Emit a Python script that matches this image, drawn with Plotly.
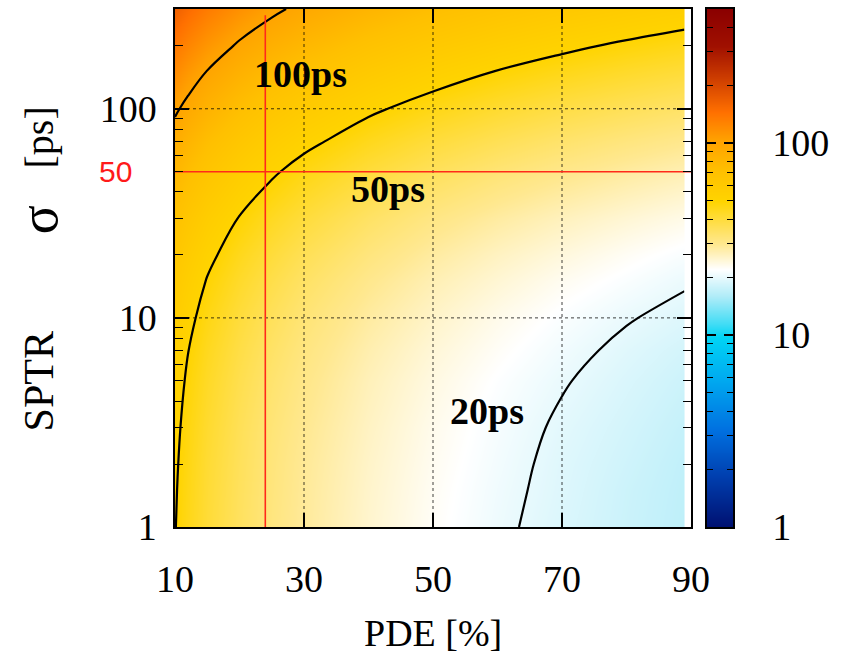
import math
import plotly.graph_objects as go

# Grid of the time-resolution map: PDE [%] columns, SPTR [ps] rows
pde = [10, 12, 15, 20, 25, 30, 40, 50, 60, 70, 80, 89]
sptr = [1, 1.5, 2, 3, 5, 7, 10, 15, 20, 30, 50, 70, 100, 150, 200, 300]

# sigma [ps], one list per SPTR row (same order as `sptr`)
sigma_ps = [
    [50.3, 45.9, 41.1, 35.6, 31.8, 29.1, 25.2, 22.5, 20.5, 19.0, 17.8, 16.9],
    [50.7, 46.3, 41.4, 35.9, 32.1, 29.3, 25.4, 22.7, 20.7, 19.2, 17.9, 17.0],
    [51.1, 46.7, 41.7, 36.2, 32.3, 29.5, 25.6, 22.9, 20.9, 19.3, 18.1, 17.1],
    [51.9, 47.4, 42.4, 36.7, 32.8, 30.0, 26.0, 23.2, 21.2, 19.6, 18.4, 17.4],
    [53.5, 48.8, 43.7, 37.8, 33.8, 30.9, 26.7, 23.9, 21.8, 20.2, 18.9, 17.9],
    [55.0, 50.2, 44.9, 38.9, 34.8, 31.8, 27.5, 24.6, 22.5, 20.8, 19.4, 18.4],
    [57.2, 52.2, 46.7, 40.4, 36.2, 33.0, 28.6, 25.6, 23.3, 21.6, 20.2, 19.2],
    [60.7, 55.4, 49.5, 42.9, 38.4, 35.0, 30.3, 27.1, 24.8, 22.9, 21.5, 20.3],
    [64.0, 58.4, 52.2, 45.2, 40.5, 36.9, 32.0, 28.6, 26.1, 24.2, 22.6, 21.4],
    [70.1, 64.0, 57.2, 49.6, 44.3, 40.5, 35.0, 31.3, 28.6, 26.5, 24.8, 23.5],
    [80.9, 73.9, 66.1, 57.2, 51.2, 46.7, 40.5, 36.2, 33.0, 30.6, 28.6, 27.1],
    [90.5, 82.6, 73.9, 64.0, 57.2, 52.3, 45.3, 40.5, 37.0, 34.2, 32.0, 30.3],
    [103.2, 94.2, 84.3, 73.0, 65.3, 59.6, 51.6, 46.2, 42.1, 39.0, 36.5, 34.6],
    [121.5, 110.9, 99.2, 85.9, 76.8, 70.1, 60.7, 54.3, 49.6, 45.9, 42.9, 40.7],
    [137.3, 125.3, 112.1, 97.1, 86.8, 79.3, 68.7, 61.4, 56.1, 51.9, 48.5, 46.0],
    [164.5, 150.1, 134.3, 116.3, 104.0, 95.0, 82.2, 73.6, 67.1, 62.2, 58.2, 55.1],
]

# Iso-resolution lines and their labels
contour_levels = [20, 50, 100]
contour_texts = ["20ps", "50ps", "100ps"]
label_pde = [58.4, 43.0, 29.4]
label_sptr = [3.6, 41.5, 147]

# Axes
pde_range = [10, 90]
sptr_range = [1, 300]
pde_ticks = [10, 30, 50, 70, 90]
sptr_ticks = [1, 10, 100]
sptr_minor = [2, 3, 4, 5, 6, 7, 8, 9, 20, 30, 40, 50, 60, 70, 80, 90, 200, 300]

# Colour bar (log scale) and colour ramp
cbar_range = [1, 500]
cbar_ticks = [1, 10, 100]
cbar_minor = [2, 3, 4, 5, 6, 7, 8, 9, 20, 30, 40, 50, 60, 70, 80, 90,
              200, 300, 400, 500]
cs_values = [1, 1.86, 3.2, 5.9, 9.8, 11.4, 16, 22, 30, 50, 72, 105, 145,
             213, 320, 500]
cs_colors = ["#001070", "#0040b0", "#0070e0", "#00aaf0", "#00d4f5", "#40dcf5",
             "#b0ecf8", "#ffffff", "#ffe890", "#ffd400", "#ffc000", "#ffa000",
             "#ff7000", "#d04000", "#a01000", "#8b0000"]

# Working point marked in red
sel_pde = 24
sel_sptr = 50
sel_sptr_top = 280

SERIF = "Liberation Serif, Times New Roman, serif"
SANS = "Liberation Sans, Arial, sans-serif"

lmin, lmax = math.log10(cbar_range[0]), math.log10(cbar_range[1])
colorscale = [[(math.log10(v) - lmin) / (lmax - lmin), c]
              for v, c in zip(cs_values, cs_colors)]
log_sigma = [[math.log10(v) for v in row] for row in sigma_ps]

fig = go.Figure()

# --- main map -------------------------------------------------------------
fig.add_trace(go.Heatmap(
    x=pde, y=sptr, z=log_sigma, zsmooth="best",
    colorscale=colorscale, zmin=lmin, zmax=lmax,
    showscale=False, hoverinfo="skip", xaxis="x", yaxis="y",
))

# white margin between the last PDE sample and the axis end
fig.add_trace(go.Scatter(
    x=[pde[-1], pde_range[1], pde_range[1], pde[-1]],
    y=[sptr_range[0], sptr_range[0], sptr_range[1], sptr_range[1]],
    fill="toself", fillcolor="white", line=dict(width=0),
    mode="lines", hoverinfo="skip", showlegend=False,
))

# dotted grid
grid_line = dict(color="rgba(0,0,0,0.75)", width=1, dash="dot")
for xv in pde_ticks[1:-1]:
    fig.add_trace(go.Scatter(x=[xv, xv], y=sptr_range, mode="lines",
                             line=grid_line, hoverinfo="skip", showlegend=False))
for yv in sptr_ticks[1:]:
    fig.add_trace(go.Scatter(x=pde_range, y=[yv, yv], mode="lines",
                             line=grid_line, hoverinfo="skip", showlegend=False))

# iso-sigma contours
for lvl in contour_levels:
    fig.add_trace(go.Contour(
        x=pde, y=sptr, z=sigma_ps,
        contours=dict(start=lvl, end=lvl, size=1, coloring="none"),
        line=dict(color="black", width=2.2, smoothing=1),
        showscale=False, hoverinfo="skip", showlegend=False,
    ))

# red working-point lines
red_line = dict(color="#ff2a1a", width=1.6)
fig.add_trace(go.Scatter(x=pde_range, y=[sel_sptr, sel_sptr], mode="lines",
                         line=red_line, hoverinfo="skip", showlegend=False))
fig.add_trace(go.Scatter(x=[sel_pde, sel_pde], y=[sptr_range[0], sel_sptr_top],
                         mode="lines", line=red_line, hoverinfo="skip",
                         showlegend=False))

# --- colour bar as its own log axis -----------------------------------------
fig.add_trace(go.Heatmap(
    x=[0, 1], y=cs_values,
    z=[[math.log10(v), math.log10(v)] for v in cs_values],
    zsmooth="best", colorscale=colorscale, zmin=lmin, zmax=lmax,
    showscale=False, hoverinfo="skip", xaxis="x2", yaxis="y2",
))

annotations = []
for txt, xv, yv in zip(contour_texts, label_pde, label_sptr):
    annotations.append(dict(
        x=xv, y=math.log10(yv), xref="x", yref="y", text=f"<b>{txt}</b>",
        showarrow=False, font=dict(family=SERIF, size=38, color="black")))

annotations.append(dict(
    x=0, y=math.log10(sel_sptr), xref="paper", yref="y", text=str(sel_sptr),
    showarrow=False, xanchor="center", xshift=-60,
    font=dict(family=SANS, size=30, color="#ff1a1a")))

annotations.append(dict(
    x=0.5, y=0, xref="x domain", yref="paper", text="PDE [%]", showarrow=False,
    yanchor="middle", yshift=-106, font=dict(family=SERIF, size=38, color="black")))

for txt, yp, size in [("SPTR", 0.281, 42), ("σ", 0.592, 54), ("[ps]", 0.752, 40)]:
    annotations.append(dict(
        x=0, y=yp, xref="paper", yref="paper", text=txt, showarrow=False,
        textangle=-90, xanchor="center", yanchor="middle", xshift=-136,
        font=dict(family=SERIF, size=size, color="black")))

axis_common = dict(
    showline=True, linecolor="black", linewidth=1.5, mirror="ticks",
    ticks="inside", tickcolor="black", tickwidth=1.5,
    showgrid=False, zeroline=False, layer="above traces",
    tickfont=dict(family=SERIF, size=38, color="black"),
)

# plot area spans x = 175..733 px; map ends at 691, bar occupies 707..733
W_L, W_R = 175, 733
main_end = (691 - W_L) / (W_R - W_L)
bar_start = (707 - W_L) / (W_R - W_L)

fig.update_layout(
    width=841, height=655,
    margin=dict(l=W_L, r=841 - W_R, t=7, b=128),
    paper_bgcolor="white", plot_bgcolor="white",
    showlegend=False,
    xaxis=dict(domain=[0, main_end], range=pde_range, tickmode="array",
               tickvals=pde_ticks, ticklen=14, ticklabelstandoff=18,
               anchor="y", **axis_common),
    yaxis=dict(type="log", anchor="x",
               range=[math.log10(sptr_range[0]), math.log10(sptr_range[1])],
               tickmode="array", tickvals=sptr_ticks, ticklen=14,
               ticklabelstandoff=9,
               minor=dict(tickmode="array", tickvals=sptr_minor, ticks="inside",
                          ticklen=8, tickwidth=1.2, tickcolor="black",
                          showgrid=False),
               **axis_common),
    xaxis2=dict(domain=[bar_start, 1], range=[0, 1], anchor="y2",
                showline=True, linecolor="black", linewidth=1.5, mirror=True,
                ticks="", showticklabels=False, showgrid=False, zeroline=False,
                layer="above traces"),
    yaxis2=dict(type="log", anchor="x2", side="right", range=[lmin, lmax],
                tickmode="array", tickvals=cbar_ticks,
                ticktext=[str(v) for v in cbar_ticks], ticklen=9,
                ticklabelstandoff=30,
                minor=dict(tickmode="array", tickvals=cbar_minor, ticks="inside",
                           ticklen=6, tickwidth=1.2, tickcolor="black",
                           showgrid=False),
                **axis_common),
    annotations=annotations,
)

fig.write_html("out.html")
